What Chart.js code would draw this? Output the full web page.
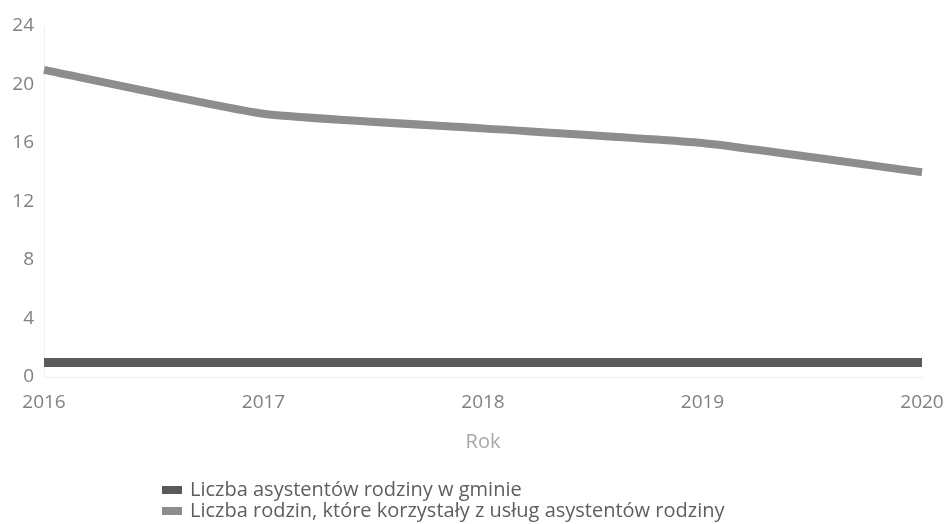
<!DOCTYPE html>
<html>
<head>
<meta charset="utf-8">
<script src="https://cdn.jsdelivr.net/npm/chart.js@4.4.1/dist/chart.umd.min.js"></script>
<style>
  html, body { margin: 0; padding: 0; background: #fff; }
  #wrap { width: 946px; height: 524px; }
</style>
</head>
<body>
<div id="wrap"><canvas id="chart"></canvas></div>
<script>
const years = ["2016", "2017", "2018", "2019", "2020"];
const asystenci = [1, 1, 1, 1, 1];
const rodziny = [21, 18, 17, 16, 14];
const seriesNames = [
  "Liczba asystentów rodziny w gminie",
  "Liczba rodzin, które korzystały z usług asystentów rodziny"
];
const yTicks = [0, 4, 8, 12, 16, 20, 24];

const font = "'Open Sans', 'Noto Sans', sans-serif";

// legend drawn in two rows under the axis title
const bottomLegend = {
  id: "bottomLegend",
  afterDraw(chart) {
    const ctx = chart.ctx;
    ctx.save();
    ctx.font = "20px " + font;
    ctx.textBaseline = "middle";
    chart.data.datasets.forEach((ds, i) => {
      const y = 490 + i * 21;
      ctx.fillStyle = ds.borderColor;
      ctx.fillRect(162, y - 4, 20, 8);
      ctx.fillStyle = "#5e5e5e";
      ctx.fillText(ds.label, 190, y);
    });
    ctx.restore();
  }
};

new Chart(document.getElementById("chart"), {
  type: "line",
  data: {
    labels: years,
    datasets: [
      {
        label: seriesNames[0],
        data: asystenci,
        borderColor: "#5a5a5a",
        borderWidth: 9,
        pointRadius: 0,
        tension: 0
      },
      {
        label: seriesNames[1],
        data: rodziny,
        borderColor: "#8d8d8d",
        borderWidth: 8,
        pointRadius: 0,
        tension: 0.15
      }
    ]
  },
  options: {
    responsive: true,
    maintainAspectRatio: false,
    animation: false,
    layout: { padding: { top: 26, right: 24, left: 0, bottom: 66 } },
    plugins: {
      legend: { display: false },
      tooltip: { enabled: false }
    },
    scales: {
      x: {
        afterFit: (axis) => { axis.height = 81; axis.paddingLeft = 0; axis.paddingRight = 0; },
        grid: { display: false, drawTicks: false },
        border: { display: true, color: "#efefef" },
        ticks: { color: "#808080", font: { family: font, size: 19 }, padding: 14, maxRotation: 0 },
        title: { display: true, text: "Rok", color: "#a8a8a8", font: { family: font, size: 20 }, padding: { top: 0, bottom: 4 } }
      },
      y: {
        min: 0,
        max: 24,
        afterFit: (axis) => { axis.width = 44; axis.paddingTop = 0; axis.paddingBottom = 0; },
        afterBuildTicks: (axis) => { axis.ticks = yTicks.map((v) => ({ value: v })); },
        grid: { display: false, drawTicks: false },
        border: { display: true, color: "#efefef" },
        ticks: { color: "#808080", font: { family: font, size: 19 }, padding: 10 }
      }
    }
  },
  plugins: [bottomLegend]
});
</script>
</body>
</html>
